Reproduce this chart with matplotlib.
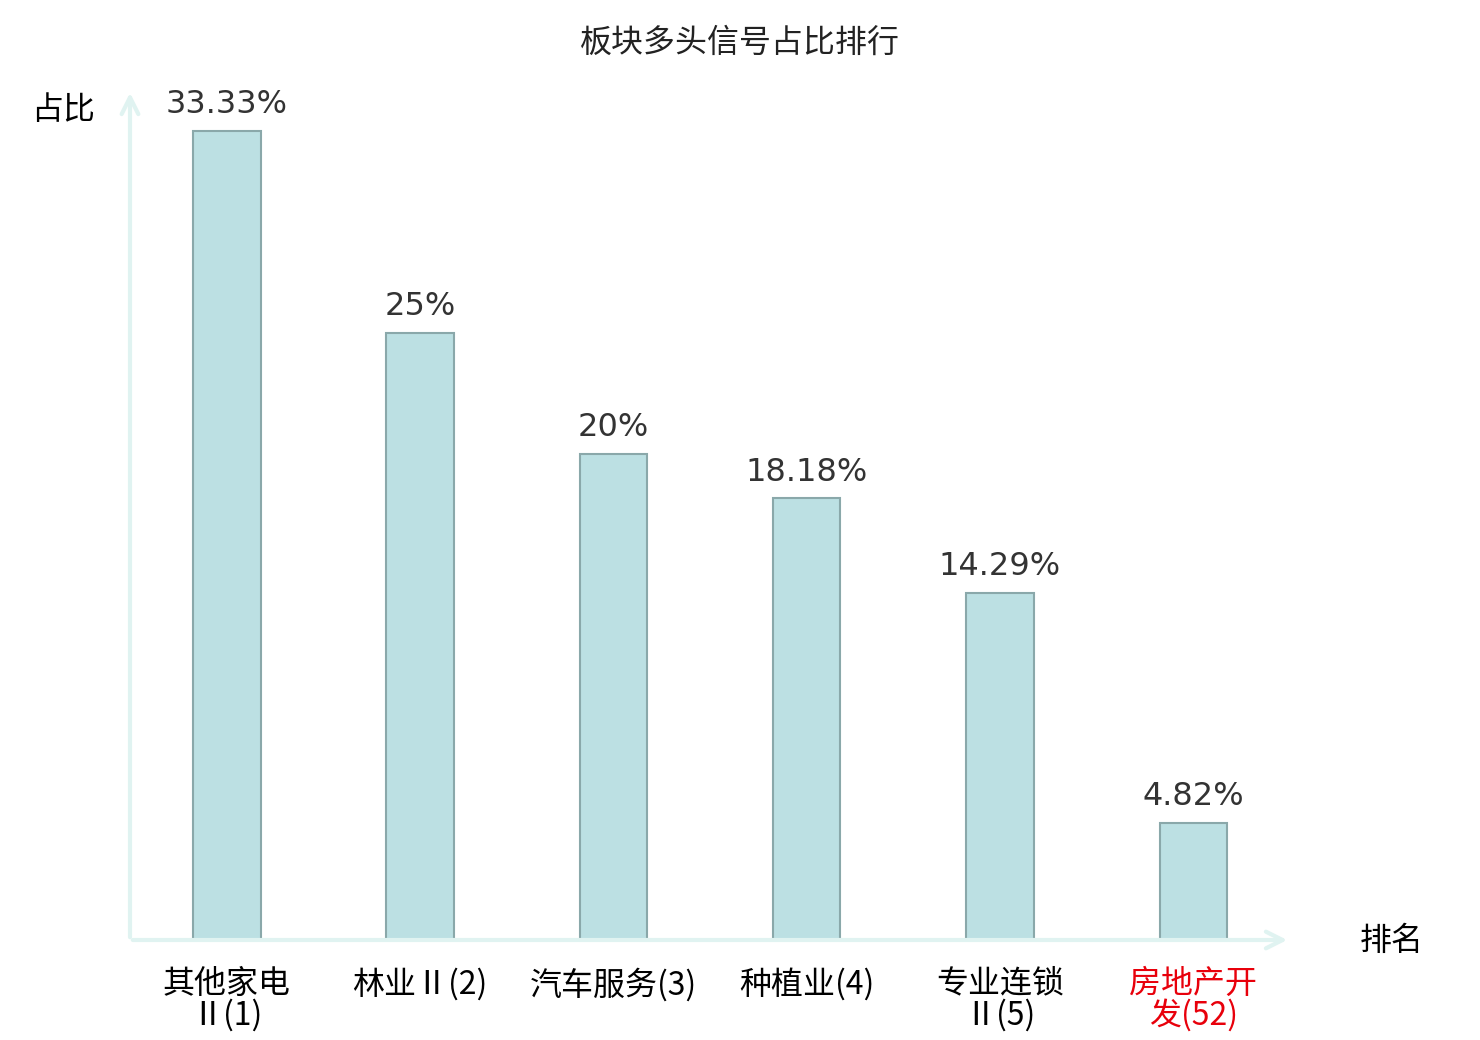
import matplotlib
matplotlib.use('Agg')
import matplotlib.pyplot as plt

plt.rcParams['font.family'] = ['Noto Sans CJK SC', 'DejaVu Sans']

categories = ['其他家电\nⅡ(1)', '林业Ⅱ(2)', '汽车服务(3)', '种植业(4)', '专业连锁\nⅡ(5)', '房地产开\n发(52)']
values = [33.33, 25, 20, 18.18, 14.29, 4.82]
value_labels = ['33.33%', '25%', '20%', '18.18%', '14.29%', '4.82%']
label_colors = ['black', 'black', 'black', 'black', 'black', '#e8000b']

axis_color = '#e0f3f1'

fig = plt.figure(figsize=(14.8, 10.4), dpi=100)
ax = fig.add_axes([130 / 1480, 100 / 1040, 1160 / 1480, 850 / 1040])

x = range(len(values))
ax.bar(x, values, width=0.35, color='#bce0e3', edgecolor='#8aa8aa', linewidth=1.5)

for i, v in enumerate(values):
    ax.text(i, v + 0.45, value_labels[i], ha='center', va='bottom',
            fontsize=23, color='#333333', family='DejaVu Sans')

ax.set_xlim(-0.5, 5.5)
ax.set_ylim(0, 35)
for s in ax.spines.values():
    s.set_visible(False)
ax.set_yticks([])
ax.set_xticks(list(x))
ax.set_xticklabels(categories, fontsize=23, linespacing=0.98)
for lbl, c in zip(ax.get_xticklabels(), label_colors):
    lbl.set_color(c)
ax.tick_params(axis='x', length=0, pad=20)

# axes with arrows
ax.annotate('', xy=(1.0, 0), xytext=(0, 0), xycoords='axes fraction',
            arrowprops=dict(arrowstyle='->', color=axis_color, lw=3,
                            mutation_scale=30), annotation_clip=False)
ax.annotate('', xy=(0, 1.0), xytext=(0, 0), xycoords='axes fraction',
            arrowprops=dict(arrowstyle='->', color=axis_color, lw=3,
                            mutation_scale=30), annotation_clip=False)

fig.text(740 / 1480, 1 - 43 / 1040, '板块多头信号占比排行', ha='center', va='center',
         fontsize=23, color='#222222')
fig.text(63 / 1480, 1 - 110 / 1040, '占比', ha='center', va='center', fontsize=23)
fig.text(1392 / 1480, 1 - 941 / 1040, '排名', ha='center', va='center', fontsize=23)

fig.savefig('out.png', dpi=100, facecolor='white')
